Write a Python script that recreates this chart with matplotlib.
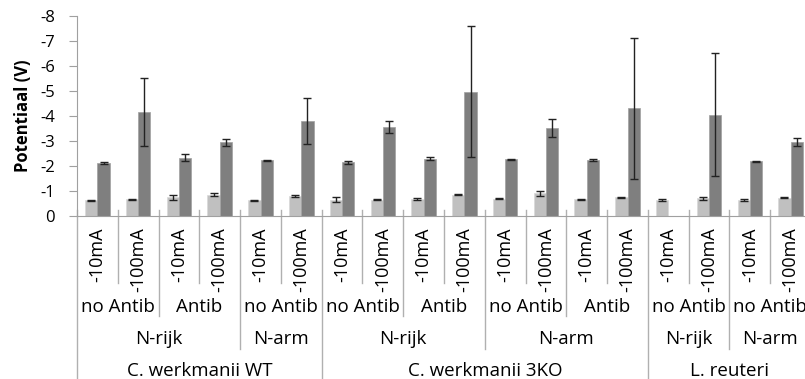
import numpy as np
import matplotlib
matplotlib.use("Agg")
import matplotlib.pyplot as plt

# values (V), two series per category
light = [-0.63, -0.67, -0.75, -0.86, -0.63, -0.80, -0.66, -0.66, -0.70,
         -0.86, -0.70, -0.92, -0.67, -0.75, -0.66, -0.71, -0.66, -0.74]
light_err = [0.03, 0.03, 0.10, 0.07, 0.02, 0.04, 0.10, 0.02, 0.04,
             0.02, 0.02, 0.10, 0.02, 0.02, 0.04, 0.05, 0.04, 0.03]
dark = [-2.12, -4.17, -2.34, -2.95, -2.23, -3.81, -2.15, -3.57, -2.30,
        -4.98, -2.27, -3.52, -2.26, -4.31, np.nan, -4.06, -2.20, -2.97]
dark_err = [0.03, 1.37, 0.13, 0.14, 0.02, 0.93, 0.07, 0.25, 0.05,
            2.63, 0.03, 0.37, 0.04, 2.81, 0.0, 2.45, 0.02, 0.17]

current = ['-10mA', '-100mA'] * 9
antib = ['no Antib', 'Antib', 'no Antib', 'no Antib', 'Antib', 'no Antib',
         'Antib', 'no Antib', 'no Antib']
nitrogen = [('N-rijk', 4), ('N-arm', 2), ('N-rijk', 4), ('N-arm', 4),
            ('N-rijk', 2), ('N-arm', 2)]
strain = [('C. werkmanii WT', 6), ('C. werkmanii 3KO', 8), ('L. reuteri', 4)]

plt.rcParams['font.family'] = ['Open Sans', 'DejaVu Sans']

W, H = 805, 379
fig = plt.figure(figsize=(W / 100, H / 100), dpi=100)
x0, x1, y0, y1 = 77, 811, 216, 16
ax = fig.add_axes([x0 / W, 1 - y0 / H, (x1 - x0) / W, (y0 - y1) / H])

n = len(light)
x = np.arange(n)
bw = 0.3
ekw = dict(ecolor='#222222', elinewidth=1, capsize=3, capthick=1)
ax.bar(x - bw / 2, light, bw, color='#c0c0c0', edgecolor='#d9d9d9', linewidth=0.5,
       yerr=light_err, error_kw=ekw)
ax.bar(x + bw / 2, dark, bw, color='#7f7f7f', edgecolor='#a0a0a0', linewidth=0.5,
       yerr=dark_err, error_kw=ekw)

ax.set_xlim(-0.5, n - 0.5)
ax.set_ylim(0, -8)
ax.set_yticks(np.arange(0, -9, -1))
ax.set_yticklabels(['0'] + [str(v) for v in range(-1, -9, -1)])
ax.tick_params(axis='y', length=6, color='#a0a0a0', labelsize=12, pad=10)
ax.set_xticks([])
for s in ['top', 'right']:
    ax.spines[s].set_visible(False)
for s in ['left', 'bottom']:
    ax.spines[s].set_color('#a0a0a0')
ax.set_ylabel('Potentiaal (V)', fontsize=12, fontweight='bold', labelpad=6)


def fy(py):
    # pixel row -> axes fraction
    return (y0 - py) / (y0 - y1)


tr = ax.get_xaxis_transform()
line_kw = dict(color='#b0b0b0', lw=1, transform=tr, clip_on=False)

# separators: depth depends on the highest level boundary
bounds2 = set(np.cumsum([2] * 9))
bounds3 = set(np.cumsum([s for _, s in nitrogen]))
bounds4 = set(np.cumsum([s for _, s in strain]))
for b in range(0, n + 1):
    if b == 0 or b in bounds4:
        bottom = 379
    elif b in bounds3:
        bottom = 349
    elif b in bounds2:
        bottom = 316
    else:
        bottom = 283
    ax.plot([b - 0.5, b - 0.5], [fy(210), fy(bottom)], **line_kw)

fs = 13.5
for i, lab in enumerate(current):
    ax.text(i, fy(227), lab, rotation=90, ha='center', va='top', fontsize=13,
            transform=tr)
for i, lab in enumerate(antib):
    ax.text(2 * i + 0.5, fy(307), lab, ha='center', va='center', fontsize=fs,
            transform=tr)
pos = 0
for lab, span in nitrogen:
    ax.text(pos + span / 2 - 0.5, fy(339), lab, ha='center', va='center',
            fontsize=fs, transform=tr)
    pos += span
pos = 0
for lab, span in strain:
    ax.text(pos + span / 2 - 0.5, fy(371), lab, ha='center', va='center',
            fontsize=fs, transform=tr)
    pos += span

fig.savefig('out.png', dpi=100)
